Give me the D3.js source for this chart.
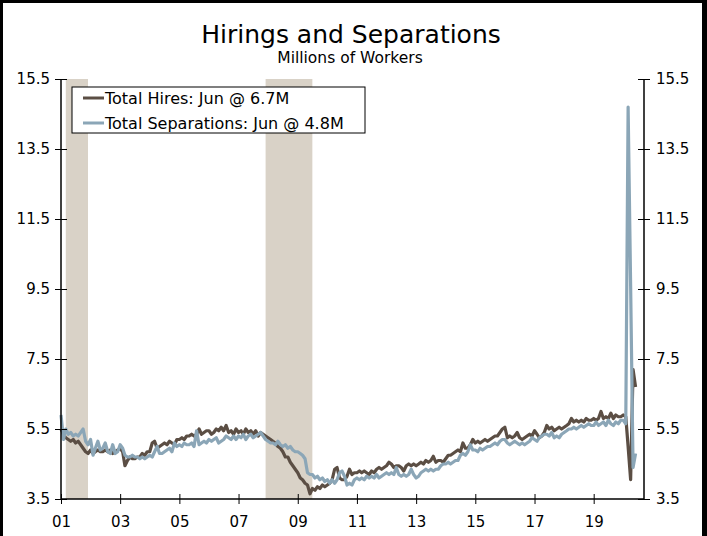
<!DOCTYPE html>
<html>
<head>
<meta charset="utf-8">
<script src="https://cdn.jsdelivr.net/npm/d3@7"></script>
<style>
  body { margin: 0; background: #000; }
  svg { display: block; }
  .axis text { font-family: "DejaVu Sans", Verdana, sans-serif; font-size: 15px; fill: #000; }
</style>
</head>
<body>
<svg width="707" height="536"></svg>
<script>
// monthly, Jan 2001 - Jun 2020, millions of workers
var startMonth = new Date(2001, 0, 1);

var hires = [
  5.50, 5.35, 5.25, 5.20, 5.15, 5.20, 5.10, 5.15, 5.05, 4.95, 4.85, 4.80, // 2001
  4.90, 4.80, 4.85, 4.90, 4.85, 4.85, 4.90, 4.85, 4.90, 4.80, 4.85, 4.90, // 2002
  4.95, 4.85, 4.45, 4.60, 4.70, 4.65, 4.65, 4.70, 4.70, 4.80, 4.75, 4.85, // 2003
  4.85, 5.10, 5.15, 4.95, 5.00, 5.05, 5.10, 5.05, 5.15, 5.10, 5.05, 5.20, // 2004
  5.20, 5.25, 5.20, 5.30, 5.30, 5.35, 5.30, 5.35, 5.50, 5.35, 5.40, 5.45, // 2005
  5.45, 5.35, 5.40, 5.50, 5.45, 5.55, 5.45, 5.60, 5.40, 5.45, 5.35, 5.50, // 2006
  5.40, 5.45, 5.35, 5.50, 5.40, 5.45, 5.35, 5.45, 5.30, 5.40, 5.35, 5.30, // 2007
  5.25, 5.20, 5.15, 5.10, 5.00, 4.95, 4.85, 4.70, 4.70, 4.55, 4.45, 4.35, // 2008
  4.25, 4.10, 4.05, 3.95, 3.90, 3.65, 3.80, 3.75, 3.85, 3.80, 3.90, 3.85, // 2009
  3.90, 3.95, 4.05, 4.35, 4.40, 4.10, 4.05, 4.05, 4.15, 4.35, 4.20, 4.25, // 2010
  4.25, 4.30, 4.25, 4.30, 4.25, 4.20, 4.30, 4.25, 4.35, 4.40, 4.35, 4.40, // 2011
  4.45, 4.55, 4.50, 4.40, 4.45, 4.45, 4.40, 4.30, 4.45, 4.50, 4.45, 4.50, // 2012
  4.45, 4.50, 4.55, 4.50, 4.60, 4.55, 4.60, 4.72, 4.55, 4.60, 4.60, 4.55, // 2013
  4.65, 4.75, 4.75, 4.80, 4.85, 4.90, 4.85, 5.10, 4.95, 4.95, 5.05, 5.20, // 2014
  5.10, 5.15, 5.10, 5.15, 5.20, 5.15, 5.20, 5.25, 5.30, 5.30, 5.40, 5.50, // 2015
  5.55, 5.25, 5.30, 5.25, 5.30, 5.40, 5.25, 5.20, 5.25, 5.30, 5.35, 5.30, // 2016
  5.45, 5.35, 5.25, 5.30, 5.40, 5.60, 5.50, 5.55, 5.45, 5.50, 5.55, 5.50, // 2017
  5.55, 5.60, 5.65, 5.80, 5.70, 5.75, 5.70, 5.75, 5.70, 5.80, 5.75, 5.75, // 2018
  5.80, 5.75, 5.80, 6.00, 5.80, 5.85, 5.80, 5.95, 5.80, 5.90, 5.85, 5.85, // 2019
  5.90, 5.85, 5.00, 4.05, 7.20, 6.70                                      // 2020
];

var separations = [
  5.90, 5.20, 5.50, 5.35, 5.40, 5.30, 5.35, 5.30, 5.40, 5.50, 5.15, 5.05, // 2001
  5.20, 4.75, 4.95, 5.15, 4.90, 4.95, 5.10, 4.85, 4.80, 5.05, 4.80, 4.85, // 2002
  5.05, 4.95, 4.75, 4.70, 4.70, 4.75, 4.70, 4.70, 4.65, 4.70, 4.65, 4.70, // 2003
  4.75, 4.70, 4.85, 5.00, 4.80, 4.80, 4.85, 4.90, 4.95, 4.85, 5.10, 5.00, // 2004
  5.05, 5.00, 5.10, 5.05, 5.05, 5.10, 5.00, 5.45, 5.05, 5.10, 5.15, 5.10, // 2005
  5.20, 5.15, 5.20, 5.25, 5.10, 5.15, 5.20, 5.30, 5.25, 5.20, 5.30, 5.20, // 2006
  5.30, 5.25, 5.35, 5.20, 5.30, 5.35, 5.25, 5.30, 5.35, 5.40, 5.30, 5.20, // 2007
  5.15, 5.10, 5.10, 5.05, 5.15, 5.05, 5.00, 5.05, 4.95, 5.00, 4.90, 4.85, // 2008
  4.85, 4.80, 4.75, 4.65, 4.25, 4.20, 4.20, 4.10, 4.15, 4.05, 4.10, 4.00, // 2009
  4.05, 3.95, 4.05, 3.95, 4.05, 4.25, 4.30, 4.15, 3.90, 3.95, 3.90, 4.05, // 2010
  4.10, 4.05, 4.10, 4.05, 4.15, 4.10, 4.15, 4.10, 4.20, 4.10, 4.15, 4.20, // 2011
  4.25, 4.20, 4.25, 4.20, 4.40, 4.20, 4.15, 4.20, 4.15, 4.20, 4.35, 4.20, // 2012
  4.10, 4.15, 4.25, 4.30, 4.35, 4.30, 4.35, 4.30, 4.35, 4.35, 4.45, 4.50, // 2013
  4.50, 4.55, 4.50, 4.55, 4.60, 4.60, 4.75, 4.80, 4.75, 4.85, 5.05, 4.90, // 2014
  4.90, 4.85, 4.95, 4.90, 4.95, 5.00, 5.00, 5.05, 5.10, 5.05, 5.15, 5.20, // 2015
  5.20, 5.10, 5.05, 5.10, 5.15, 5.10, 5.05, 5.10, 5.05, 5.10, 5.15, 5.25, // 2016
  5.20, 5.15, 5.25, 5.30, 5.35, 5.35, 5.30, 5.40, 5.25, 5.30, 5.25, 5.35, // 2017
  5.40, 5.45, 5.50, 5.50, 5.55, 5.50, 5.55, 5.60, 5.55, 5.60, 5.65, 5.60, // 2018
  5.60, 5.70, 5.60, 5.65, 5.70, 5.60, 5.75, 5.65, 5.60, 5.70, 5.65, 5.75, // 2019
  5.75, 5.65, 14.70, 9.60, 4.40, 4.80                                     // 2020
];

// recessions: [start, end]
var recessions = [
  [new Date(2001, 2, 1), new Date(2001, 10, 30)],
  [new Date(2007, 11, 1), new Date(2009, 5, 30)]
];

var yTicks = [3.5, 5.5, 7.5, 9.5, 11.5, 13.5, 15.5];
var xTickYears = [2001, 2003, 2005, 2007, 2009, 2011, 2013, 2015, 2017, 2019];
var seriesNames = ["Total Hires: Jun @ 6.7M", "Total Separations: Jun @ 4.8M"];
var seriesColors = ["#5b4e44", "#8ba6b7"];

var svg = d3.select("svg");
var width = 707, height = 536;

// frame
svg.append("rect").attr("width", width).attr("height", height).attr("fill", "#000");
svg.append("rect").attr("x", 3).attr("y", 3).attr("width", 699).attr("height", 540).attr("fill", "#fff");

var plotL = 61, plotR = 644, plotT = 79, plotB = 499;

var x = d3.scaleTime()
  .domain([startMonth, new Date(2020, 8, 13)])
  .range([plotL, plotR]);

var y = d3.scaleLinear()
  .domain([3.5, 15.5])
  .range([plotB, plotT]);

function monthDate(i) {
  return new Date(startMonth.getFullYear(), startMonth.getMonth() + i, 1);
}

// recession shading
svg.selectAll("rect.rec")
  .data(recessions)
  .enter()
  .append("rect")
  .attr("class", "rec")
  .attr("x", function(d) { return x(d[0]); })
  .attr("width", function(d) { return x(d[1]) - x(d[0]); })
  .attr("y", plotT)
  .attr("height", plotB - plotT)
  .attr("fill", "#d9d2c7");

// lines
var line = d3.line()
  .x(function(d, i) { return x(monthDate(i)); })
  .y(function(d) { return y(d); });

[hires, separations].forEach(function(s, k) {
  svg.append("path")
    .datum(s)
    .attr("fill", "none")
    .attr("stroke", seriesColors[k])
    .attr("stroke-width", 3.2)
    .attr("stroke-linejoin", "round")
    .attr("d", line);
});

// axes
var xAxis = svg.append("g")
  .attr("class", "axis")
  .attr("transform", "translate(0," + plotB + ")")
  .call(d3.axisBottom(x)
    .tickValues(xTickYears.map(function(yr) { return new Date(yr, 0, 1); }))
    .tickFormat(d3.timeFormat("%y"))
    .tickSizeOuter(0)
    .tickSizeInner(5)
    .tickPadding(12));
xAxis.select(".domain").remove();
xAxis.selectAll(".tick line").attr("y1", -5).attr("y2", 5).attr("stroke", "#000");

var yLeft = svg.append("g")
  .attr("class", "axis")
  .attr("transform", "translate(" + plotL + ",0)")
  .call(d3.axisLeft(y).tickValues(yTicks).tickFormat(d3.format(".1f"))
    .tickSizeOuter(0).tickSizeInner(6).tickPadding(5));
yLeft.select(".domain").remove();
yLeft.selectAll(".tick line").attr("x1", -6).attr("x2", 6).attr("stroke", "#000");

var yRight = svg.append("g")
  .attr("class", "axis")
  .attr("transform", "translate(" + plotR + ",0)")
  .call(d3.axisRight(y).tickValues(yTicks).tickFormat(d3.format(".1f"))
    .tickSizeOuter(0).tickSizeInner(6).tickPadding(6));
yRight.select(".domain").remove();
yRight.selectAll(".tick line").attr("x1", -6).attr("x2", 6).attr("stroke", "#000");

// axis lines
svg.append("line").attr("x1", plotL).attr("x2", plotL).attr("y1", plotT).attr("y2", plotB)
  .attr("stroke", "#000").attr("stroke-width", 1.5);
svg.append("line").attr("x1", plotR).attr("x2", plotR).attr("y1", plotT).attr("y2", plotB)
  .attr("stroke", "#000").attr("stroke-width", 1.5);
svg.append("line").attr("x1", plotL).attr("x2", plotR).attr("y1", plotB).attr("y2", plotB)
  .attr("stroke", "#000").attr("stroke-width", 1.5);

// titles
svg.append("text")
  .attr("x", 351).attr("y", 43)
  .attr("text-anchor", "middle")
  .style("font-family", "'DejaVu Sans', Tahoma, sans-serif")
  .style("font-size", "25px")
  .text("Hirings and Separations");

svg.append("text")
  .attr("x", 350).attr("y", 63)
  .attr("text-anchor", "middle")
  .style("font-family", "'DejaVu Sans', Tahoma, sans-serif")
  .style("font-size", "15.5px")
  .text("Millions of Workers");

// legend
var legend = svg.append("g");
legend.append("rect")
  .attr("x", 72).attr("y", 87)
  .attr("width", 293).attr("height", 46)
  .attr("fill", "#fff")
  .attr("stroke", "#000")
  .attr("stroke-width", 1);

var items = legend.selectAll("g.item")
  .data(seriesNames)
  .enter()
  .append("g")
  .attr("transform", function(d, i) { return "translate(0," + (98 + i * 25) + ")"; });

items.append("line")
  .attr("x1", 83).attr("x2", 104)
  .attr("stroke", function(d, i) { return seriesColors[i]; })
  .attr("stroke-width", 3);

items.append("text")
  .attr("x", 105)
  .attr("dy", "0.36em")
  .style("font-family", "'DejaVu Sans', Verdana, sans-serif")
  .style("font-size", "16px")
  .text(function(d) { return d; });
</script>
</body>
</html>
